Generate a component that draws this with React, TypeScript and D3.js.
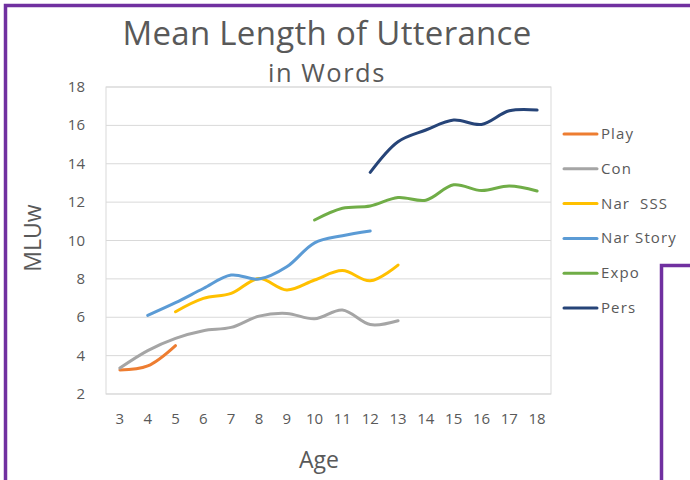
import React from "react";
import * as d3 from "d3";

const ages = [3, 4, 5, 6, 7, 8, 9, 10, 11, 12, 13, 14, 15, 16, 17, 18];
const yTicks = [2, 4, 6, 8, 10, 12, 14, 16, 18];
const seriesNames = ["Play", "Con", "Nar  SSS", "Nar Story", "Expo", "Pers"];
const seriesColors = ["#ED7D31", "#A5A5A5", "#FFC000", "#5B9BD5", "#70AD47", "#264478"];

const playAges = [3, 4, 5];
const playValues = [3.25, 3.46, 4.52];
const conAges = [3, 4, 5, 6, 7, 8, 9, 10, 11, 12, 13];
const conValues = [3.35, 4.26, 4.9, 5.3, 5.47, 6.06, 6.2, 5.92, 6.38, 5.62, 5.82];
const narSssAges = [5, 6, 7, 8, 9, 10, 11, 12, 13];
const narSssValues = [6.29, 6.98, 7.24, 8.02, 7.42, 7.94, 8.43, 7.9, 8.72];
const narStoryAges = [4, 5, 6, 7, 8, 9, 10, 11, 12];
const narStoryValues = [6.1, 6.76, 7.5, 8.2, 7.99, 8.63, 9.88, 10.25, 10.5];
const expoAges = [10, 11, 12, 13, 14, 15, 16, 17, 18];
const expoValues = [11.07, 11.68, 11.8, 12.24, 12.1, 12.9, 12.6, 12.84, 12.58];
const persAges = [12, 13, 14, 15, 16, 17, 18];
const persValues = [13.55, 15.15, 15.76, 16.28, 16.05, 16.76, 16.8];

const seriesAges = [playAges, conAges, narSssAges, narStoryAges, expoAges, persAges];
const seriesValues = [playValues, conValues, narSssValues, narStoryValues, expoValues, persValues];

const W = 690;
const H = 480;
const plot = { left: 106, right: 551, top: 87, bottom: 394 };
const textColor = "#595959";
const font = "'Open Sans', 'Noto Sans', sans-serif";

export default function App() {
  const x = d3
    .scaleBand<number>()
    .domain(ages)
    .range([plot.left, plot.right]);
  const y = d3.scaleLinear().domain([2, 18]).range([plot.bottom, plot.top]);
  const cx = (a: number) => (x(a) as number) + x.bandwidth() / 2;

  const line = d3
    .line<[number, number]>()
    .x((d) => cx(d[0]))
    .y((d) => y(d[1]))
    .curve(d3.curveCatmullRom.alpha(0.5));

  const legendY0 = 134;
  const legendStep = 34.8;

  return (
    <div style={{ position: "absolute", left: 0, top: 0 }}>
      <svg width={W} height={H} style={{ display: "block", background: "#fff" }}>
        {/* purple frames */}
        <path d={`M5.5,${H} L5.5,5.5 L${W},5.5`} fill="none" stroke="#7030A0" strokeWidth={3.5} />
        <path d={`M661.5,${H} L661.5,265.5 L${W},265.5`} fill="none" stroke="#7030A0" strokeWidth={3.5} />

        {/* title */}
        <text x={327} y={45} textAnchor="middle" fontFamily={font} fontSize={33} letterSpacing={0.3} fill={textColor}>
          Mean Length of Utterance
        </text>
        <text x={327} y={82} textAnchor="middle" fontFamily={font} fontSize={25.5} letterSpacing={1.5} fill={textColor}>
          in Words
        </text>

        {/* gridlines */}
        {yTicks.map((t) => (
          <line key={t} x1={plot.left} x2={plot.right} y1={y(t)} y2={y(t)} stroke="#D9D9D9" strokeWidth={1} />
        ))}
        <rect
          x={plot.left}
          y={plot.top}
          width={plot.right - plot.left}
          height={plot.bottom - plot.top}
          fill="none"
          stroke="#D9D9D9"
          strokeWidth={1}
        />

        {/* y tick labels */}
        {yTicks.map((t) => (
          <text key={t} x={85} y={y(t) + 5} textAnchor="end" fontFamily={font} fontSize={15} fill={textColor}>
            {t}
          </text>
        ))}
        {/* x tick labels */}
        {ages.map((a) => (
          <text key={a} x={cx(a)} y={424} textAnchor="middle" fontFamily={font} fontSize={15} fill={textColor}>
            {a}
          </text>
        ))}

        {/* axis titles */}
        <text
          transform={`translate(41,238) rotate(-90)`}
          textAnchor="middle"
          fontFamily={font}
          fontSize={23}
          fill={textColor}
        >
          MLUw
        </text>
        <text x={319} y={468} textAnchor="middle" fontFamily={font} fontSize={23} fill={textColor}>
          Age
        </text>

        {/* series */}
        {seriesNames.map((name, i) => {
          const pts = seriesAges[i].map((a, j) => [a, seriesValues[i][j]] as [number, number]);
          return (
            <path
              key={name}
              d={line(pts) || ""}
              fill="none"
              stroke={seriesColors[i]}
              strokeWidth={3}
              strokeLinecap="round"
              strokeLinejoin="round"
            />
          );
        })}

        {/* legend */}
        {seriesNames.map((name, i) => {
          const ly = legendY0 + i * legendStep;
          return (
            <g key={name}>
              <line x1={564} x2={597} y1={ly} y2={ly} stroke={seriesColors[i]} strokeWidth={3} strokeLinecap="round" />
              <text
                x={601}
                y={ly + 5}
                fontFamily={font}
                fontSize={15}
                letterSpacing={1.1}
                fill={textColor}
                style={{ whiteSpace: "pre" }}
              >
                {name}
              </text>
            </g>
          );
        })}
      </svg>
    </div>
  );
}
